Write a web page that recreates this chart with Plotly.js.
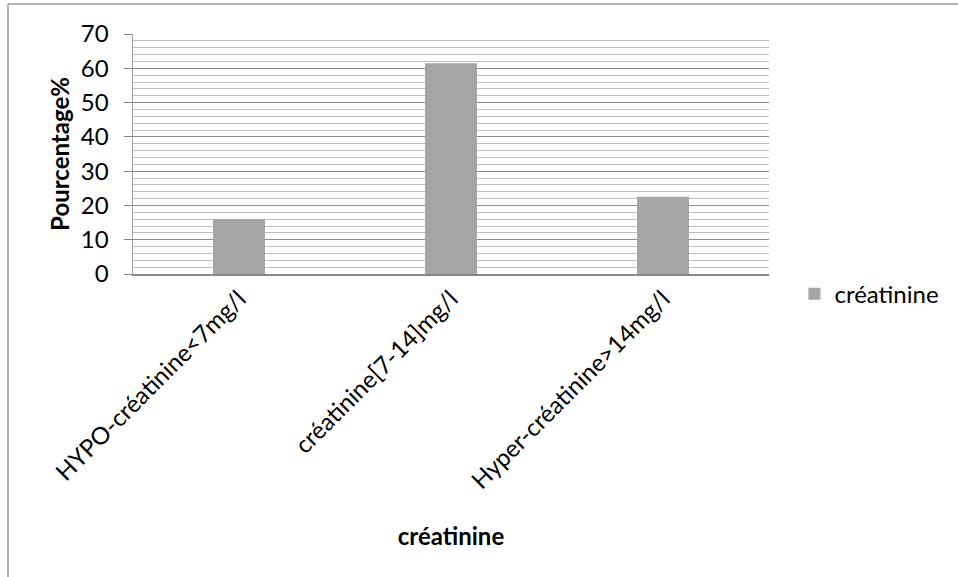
<!DOCTYPE html>
<html>
<head>
<meta charset="utf-8">
<script src="https://cdn.plot.ly/plotly-3.0.1.min.js"></script>
<style>
  html, body { margin: 0; padding: 0; background: #ffffff; }
  #chart { width: 958px; height: 577px; }
</style>
</head>
<body>
<div id="chart"></div>
<script>
// Répartition des patients selon le taux de créatinine
const categories = [
  'HYPO-créatinine<7mg/l',
  'créatinine[7-14]mg/l',
  'Hyper-créatinine>14mg/l'
];
const pourcentages = [16, 61.5, 22.5];
const seriesName = 'créatinine';
const yTicks = [0, 10, 20, 30, 40, 50, 60, 70];

const font = 'Lato, "Open Sans", "DejaVu Sans", sans-serif';
const textSize = 24;

const trace = {
  type: 'bar',
  x: categories,
  y: pourcentages,
  name: seriesName,
  marker: { color: '#a5a5a5' },
  hoverinfo: 'x+y'
};

// chart frame: left and top edges only
const frameX = (8 - 133) / 636;
const frameY = (274 - 4) / 240;

const layout = {
  width: 958,
  height: 577,
  margin: { l: 133, r: 189, t: 34, b: 303 },
  paper_bgcolor: '#ffffff',
  plot_bgcolor: '#ffffff',
  font: { family: font, size: textSize, color: '#000000' },
  bargap: 0.755,
  showlegend: true,
  legend: {
    x: 1.04, y: 0.01, xanchor: 'left', yanchor: 'top',
    font: { family: font, size: textSize, color: '#000000' },
    bgcolor: 'rgba(0,0,0,0)'
  },
  xaxis: {
    type: 'category',
    tickangle: -45,
    showline: true,
    linecolor: '#868686',
    linewidth: 1.5,
    ticks: '',
    showgrid: false,
    tickfont: { family: font, size: textSize, color: '#000000' },
    title: {
      text: '<b>créatinine</b>',
      font: { family: font, size: textSize, color: '#000000' },
      standoff: 35
    }
  },
  yaxis: {
    range: [0, 70],
    tickvals: yTicks,
    ticks: 'outside',
    ticklen: 8,
    tickcolor: '#868686',
    ticklabelstandoff: 10,
    showline: true,
    linecolor: '#a0a0a0',
    linewidth: 1.5,
    showgrid: true,
    gridcolor: '#8c8c8c',
    gridwidth: 1,
    zeroline: false,
    minor: { dtick: 2, showgrid: true, gridcolor: '#c0c0c0', gridwidth: 1 },
    tickfont: { family: font, size: textSize, color: '#000000' },
    title: {
      text: '<b>Pourcentage%</b>',
      font: { family: font, size: textSize, color: '#000000' },
      standoff: 4
    }
  },
  shapes: [
    { type: 'line', xref: 'paper', yref: 'paper', x0: frameX, x1: 1.5, y0: frameY, y1: frameY,
      line: { color: '#9a9a9a', width: 1.5 } },
    { type: 'line', xref: 'paper', yref: 'paper', x0: frameX, x1: frameX, y0: frameY, y1: -1.5,
      line: { color: '#9a9a9a', width: 1.5 } }
  ]
};

Plotly.newPlot('chart', [trace], layout, { displayModeBar: false, staticPlot: true });
</script>
</body>
</html>
